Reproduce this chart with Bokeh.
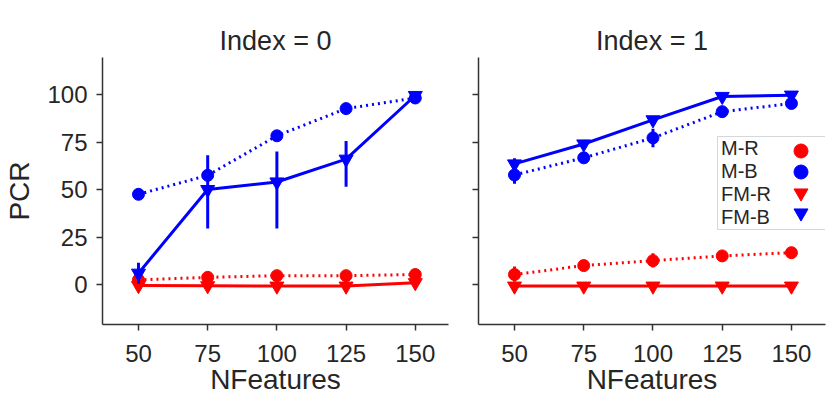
from bokeh.plotting import figure
from bokeh.layouts import row
from bokeh.models import Range1d, FixedTicker, Legend, LegendItem, CustomLabelingPolicy
from bokeh.embed import file_html
from bokeh.resources import INLINE

# ---------------- data ----------------
nfeatures = [50, 75, 100, 125, 150]
pcr_ticks = [0, 25, 50, 75, 100]
series_names = ["M-R", "M-B", "FM-R", "FM-B"]

# Index = 0
mr0 = [2.5, 3.8, 4.7, 4.7, 5.3]
mr0_lo = [1.5, 2.8, 2.7, 2.7, 4.0]
mr0_hi = [3.5, 4.8, 6.7, 6.7, 6.6]
mb0 = [47.5, 57.5, 78.3, 92.6, 98.2]
mb0_lo = [46.0, 55.5, 76.5, 91.5, 97.5]
mb0_hi = [49.0, 59.5, 80.0, 93.8, 99.0]
fmr0 = [-0.5, -0.6, -0.8, -0.8, 1.0]
fmr0_lo = [-1.0, -1.1, -1.3, -1.3, 0.2]
fmr0_hi = [0.0, -0.1, -0.3, -0.3, 1.8]
fmb0 = [6.0, 50.0, 54.0, 66.0, 99.5]
fmb0_lo = [0.5, 29.5, 29.5, 51.5, 98.5]
fmb0_hi = [11.5, 68.0, 70.0, 75.5, 100.0]

# Index = 1
mr1 = [5.3, 10.0, 12.6, 15.1, 16.8]
mr1_lo = [1.5, 8.5, 9.0, 13.5, 15.5]
mr1_hi = [9.5, 11.5, 16.5, 16.7, 18.2]
mb1 = [57.7, 66.7, 77.2, 91.0, 95.3]
mb1_lo = [53.0, 64.5, 72.3, 89.5, 94.0]
mb1_hi = [62.6, 69.0, 82.0, 92.5, 96.5]
fmr1 = [-0.8, -0.8, -0.8, -0.8, -0.8]
fmr1_lo = [-1.1, -1.1, -1.1, -1.1, -1.1]
fmr1_hi = [-0.5, -0.5, -0.5, -0.5, -0.5]
fmb1 = [63.5, 74.0, 86.7, 99.0, 99.7]
fmb1_lo = [60.5, 72.5, 85.5, 98.0, 99.0]
fmb1_hi = [66.5, 75.5, 88.0, 100.0, 100.3]

panel0 = [(mr0, mr0_lo, mr0_hi), (mb0, mb0_lo, mb0_hi), (fmr0, fmr0_lo, fmr0_hi), (fmb0, fmb0_lo, fmb0_hi)]
panel1 = [(mr1, mr1_lo, mr1_hi), (mb1, mb1_lo, mb1_hi), (fmr1, fmr1_lo, fmr1_hi), (fmb1, fmb1_lo, fmb1_hi)]

# ---------------- styles ----------------
FONT = "Liberation Sans"
TXT = "#262626"
AX = "#333333"
styles = {
    "M-R": dict(color="#ff0000", marker="circle", dash="2 4", size=12),
    "M-B": dict(color="#0000ff", marker="circle", dash="2 4", size=12),
    "FM-R": dict(color="#ff0000", marker="inverted_triangle", dash="solid", size=14),
    "FM-B": dict(color="#0000ff", marker="inverted_triangle", dash="solid", size=14),
}


def make_fig(title, fw, bl, br, xr, ylabels):
    p = figure(frame_width=fw, frame_height=267, x_range=Range1d(*xr), y_range=Range1d(-21, 119.5),
               output_backend="svg", toolbar_location=None, title=title,
               min_border_left=bl, min_border_right=br, min_border_top=57, min_border_bottom=77)
    p.title.text_font = FONT
    p.title.text_font_size = "27px"
    p.title.text_font_style = "normal"
    p.title.text_color = TXT
    p.title.align = "center"
    p.title.standoff = 3
    p.outline_line_color = None
    p.grid.visible = False
    p.background_fill_color = "white"
    p.border_fill_color = "white"
    p.xaxis.ticker = FixedTicker(ticks=nfeatures)
    p.yaxis.ticker = FixedTicker(ticks=pcr_ticks)
    for ax in (p.xaxis[0], p.yaxis[0]):
        ax.axis_line_color = AX
        ax.axis_line_width = 1.5
        ax.major_tick_line_color = AX
        ax.major_tick_line_width = 1.5
        ax.major_tick_out = 6
        ax.major_tick_in = 0
        ax.minor_tick_line_color = None
        ax.major_label_text_font = FONT
        ax.major_label_text_font_size = "24px"
        ax.major_label_text_color = TXT
        ax.axis_label_text_font = FONT
        ax.axis_label_text_font_size = "28px"
        ax.axis_label_text_font_style = "normal"
        ax.axis_label_text_color = TXT
    p.xaxis.axis_label = "NFeatures"
    p.xaxis.major_label_standoff = 14
    p.xaxis.axis_label_standoff = -1
    if ylabels:
        p.yaxis.axis_label = "PCR"
        p.yaxis.major_label_standoff = 9
        p.yaxis.axis_label_standoff = 9
    else:
        p.yaxis.major_label_text_font_size = "0px"
        p.yaxis.major_label_standoff = 0
        p.yaxis.major_label_policy = CustomLabelingPolicy(
            code="for (const i of indices) { indices.unset(i) }\nreturn indices")
    return p


def draw(p, panel):
    rends = {}
    for name, (vals, lo, hi) in zip(series_names, panel):
        st = styles[name]
        p.line(nfeatures, vals, line_color=st["color"], line_width=3, line_dash=st["dash"])
        p.segment(x0=nfeatures, y0=lo, x1=nfeatures, y1=hi, line_color=st["color"], line_width=3)
        r = p.scatter(nfeatures, vals, marker=st["marker"], size=st["size"],
                      fill_color=st["color"], line_color=st["color"], line_width=1)
        rends[name] = r
    return rends


p0 = make_fig("Index = 0", 346, 102, 15, (37, 162), True)
draw(p0, panel0)
p1 = make_fig("Index = 1", 347, 15, 5, (37, 162.3), False)
r1 = draw(p1, panel1)

# legend: a box of labels (glyphs hidden) and, on its right, one marker per row
leg_text = Legend(items=[LegendItem(label=n, renderers=[r1[n]]) for n in series_names],
                  location=(239, 94), orientation="vertical",
                  glyph_width=0, glyph_height=21, label_height=21, spacing=0, padding=0,
                  label_standoff=3, label_width=106, margin=0,
                  label_text_font=FONT, label_text_font_size="20px", label_text_color=TXT,
                  border_line_color="#b0b0b0", border_line_width=1.2,
                  background_fill_color="white", background_fill_alpha=1.0)
p1.add_layout(leg_text)
mark_y = [156, 135, 114, 94]
for n, yy in zip(series_names, mark_y):
    lm = Legend(items=[LegendItem(label=" ", renderers=[r1[n]])],
                location=(305, yy), orientation="vertical",
                glyph_width=35, glyph_height=35, label_height=1, spacing=0, padding=0,
                label_standoff=0, label_width=0, margin=0,
                label_text_font_size="1px",
                border_line_color=None, background_fill_alpha=0.0)
    p1.add_layout(lm)

layout = row(p0, p1)
open("out.html", "w").write(file_html(layout, INLINE))
